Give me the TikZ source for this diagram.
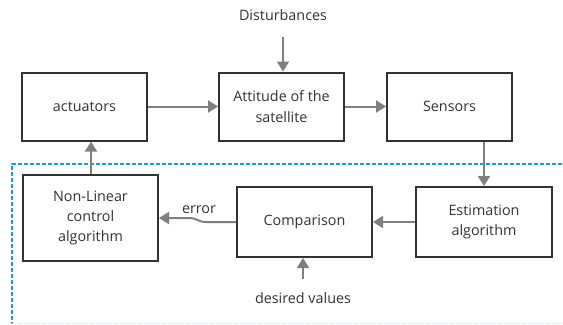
\documentclass[tikz,border=0pt]{standalone}
\usepackage{fontspec}
\setmainfont{Open Sans}
\usetikzlibrary{arrows.meta}
\definecolor{boxline}{HTML}{333333}
\definecolor{wire}{HTML}{808080}
\definecolor{loopblue}{HTML}{1A9AD6}
\definecolor{loopfaint}{HTML}{D6ECF5}
\tikzset{
  block/.style={draw=boxline, line width=2bp, fill=white, align=center,
    text=boxline, font=\fontsize{14.4}{20.5}\selectfont, inner sep=0pt},
  flow/.style={draw=wire, line width=2bp, -{Triangle[length=10bp,width=12bp]}},
  plain/.style={text=boxline, font=\fontsize{14.4}{20.5}\selectfont, inner sep=0pt},
  loop/.style={line width=1.5bp, dash pattern=on 4bp off 2bp},
}
\begin{document}
\begin{tikzpicture}[x=1bp, y=-1bp]
\useasboundingbox (0,0) rectangle (563,324);
\clip (0,0) rectangle (563,324);
% estimation/control loop frame
\draw[loop, loopblue] (580,164) -- (12,164) -- (12,324);
\draw[loop, loopfaint] (12,323.5) -- (580,323.5);
% blocks
\node[block, minimum width=125bp, minimum height=68bp] (act) at (84.5,106.5) {actuators};
\node[block, minimum width=125bp, minimum height=68bp] (att) at (281.5,106.5) {Attitude of the\\satellite};
\node[block, minimum width=125bp, minimum height=68bp] (sen) at (449.5,106.5) {Sensors};
\node[block, minimum width=135bp, minimum height=86bp] (nl) at (90.5,218) {Non-Linear\\control\\algorithm};
\node[block, minimum width=135bp, minimum height=70bp] (cmp) at (304.5,222) {Comparison};
\node[block, minimum width=136bp, minimum height=70bp] (est) at (484,222) {Estimation\\algorithm};
% external labels
\node[plain] (dist) at (283,15) {Disturbances};
\node[plain] (des) at (303,298) {desired values};
\coordinate (distend) at (283,37);
\coordinate (desend) at (303,279);
% connectors
\draw[flow] (distend) -- (att.north -| distend);
\draw[flow] (act.east) -- (att.west);
\draw[flow] (att.east) -- (sen.west);
\draw[flow] (sen.south -| est.north) -- (est.north);
\draw[flow] (est.west) -- (cmp.east);
\draw[flow] (desend) -- (cmp.south -| desend);
\draw[flow] (cmp.west) -- ++(-30,0) .. controls ++(-8,0) and ++(8,0) .. ++(-17,-4) -- (nl.east);
\draw[flow] (nl.north -| 91,0) -- (act.south -| 91,0);
\node[plain] (err) at (199,210) {error};
\end{tikzpicture}
\end{document}
